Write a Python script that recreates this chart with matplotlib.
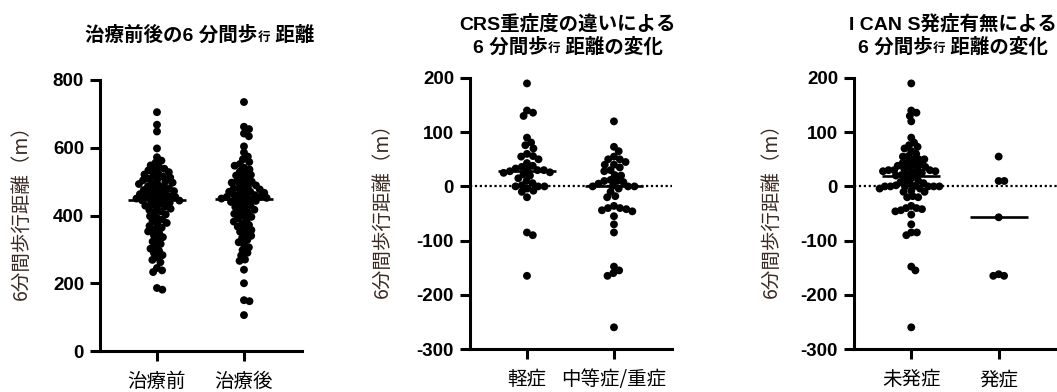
import numpy as np
import matplotlib
matplotlib.use("Agg")
from matplotlib import pyplot as plt
from matplotlib.offsetbox import TextArea, HPacker, VPacker, AnnotationBbox

plt.rcParams['axes.unicode_minus'] = False
LATIN = ['Liberation Sans', 'Noto Sans CJK JP']
CJK = ['Noto Sans CJK JP', 'DejaVu Sans']

# ---- data ----
cats1 = ['治療前', '治療後']
pre = [705, 668, 648, 598, 572, 562, 556, 548, 543, 538, 535, 533, 528, 524, 521,
       517, 515, 512, 508, 505, 504, 500, 497, 495, 493, 489, 486, 482, 480, 478,
       475, 472, 470, 469, 466, 463, 460, 458, 457, 455, 452, 450, 449, 447, 445,
       444, 441, 438, 435, 432, 429, 426, 423, 420, 416, 412, 408, 403, 398, 393,
       388, 383, 378, 374, 369, 364, 359, 353, 348, 342, 336, 330, 323, 316, 309,
       302, 296, 289, 283, 276, 269, 262, 245, 238, 233, 186, 181]
post = [735, 662, 655, 642, 634, 604, 586, 574, 566, 558, 552, 547, 541, 536, 530,
        524, 520, 518, 512, 506, 501, 500, 497, 493, 489, 485, 481, 480, 477, 473,
        470, 470, 467, 464, 461, 460, 458, 455, 455, 452, 450, 449, 446, 445, 443,
        440, 437, 433, 429, 425, 421, 417, 413, 409, 405, 400, 396, 392, 387, 382,
        377, 372, 367, 362, 357, 352, 346, 340, 334, 328, 321, 314, 306, 298, 290,
        282, 270, 266, 240, 200, 150, 147, 106]

cats2 = ['軽症', '中等症/重症']
mild = [190, 140, 136, 130, 90, 81, 76, 70, 60, 56, 55, 50, 43, 38, 36, 33, 31, 30,
        30, 28, 26, 25, 22, 20, 15, 10, 6, 2, 0, 0, 0, -4, -8, -10, -20, -85, -90, -165]
moderate = [120, 73, 65, 55, 50, 50, 45, 40, 40, 35, 30, 28, 21, 20, 12, 10, 10, 8, 5,
            1, 0, 0, 0, -4, -10, -18, -20, -36, -40, -40, -42, -44, -46, -55, -70, -85,
            -148, -155, -160, -165, -260]

cats3 = ['未発症', '発症']
no_icans = [190, 140, 136, 130, 120, 90, 81, 76, 73, 70, 65, 60, 56, 55, 50, 50, 50,
            45, 43, 40, 40, 38, 36, 35, 33, 31, 30, 30, 30, 28, 28, 26, 25, 22, 21, 20,
            20, 15, 12, 10, 8, 6, 5, 2, 1, 0, 0, 0, 0, 0, 0, -4, -4, -8, -10, -10, -18,
            -20, -20, -36, -40, -40, -42, -44, -46, -52, -70, -85, -85, -90, -148, -155,
            -260]
icans = [55, 10, 10, -57, -162, -165, -165]

ylabel = '6分間歩行距離（m）'
title1 = [[('治療前後の6 分間歩', 14), ('行', 9), (' 距離', 14)]]
title2 = [[('CRS重症度の違いによる', 14)],
          [('6 分間歩', 14), ('行', 9), (' 距離の変化', 14)]]
title3 = [[('I CAN S発症有無による', 14)],
          [('6 分間歩', 14), ('行', 9), (' 距離の変化', 14)]]

W, H = 1057, 392
fig = plt.figure(figsize=(W / 100, H / 100), dpi=100)


def swarm(values, px_per_unit, d, cat_px=87.0):
    """simple beeswarm: returns x offsets in category units"""
    ys = np.asarray(values, float) * px_per_unit
    order = np.argsort(-ys)
    placed = []
    xs = np.zeros(len(ys))
    for i in order:
        y = ys[i]
        near = [(px, py) for px, py in placed if abs(py - y) < d]
        cands = [0.0]
        for px, py in near:
            dx = np.sqrt(d * d - (py - y) ** 2)
            cands += [px + dx, px - dx]
        cands.sort(key=abs)
        for c in cands:
            if all((c - px) ** 2 + (y - py) ** 2 >= d * d - 1e-6 for px, py in near):
                xs[i] = c
                break
        placed.append((xs[i], y))
    return xs / cat_px


def panel(rect, groups, cats, ylim, yticks, zero_line, label_x, d):
    ax = fig.add_axes(rect)
    hpx = rect[3] * H
    ppu = hpx / (ylim[1] - ylim[0])
    for k, vals in enumerate(groups):
        off = swarm(vals, ppu, d)
        ax.scatter(k + off, vals, s=32, color='black', edgecolors='none', zorder=3)
        med = np.median(vals)
        ax.plot([k - 0.33, k + 0.33], [med, med], color='black', lw=1.9, zorder=4,
                solid_capstyle='butt')
    if zero_line:
        ax.axhline(0, color='black', lw=1.6, ls=(0, (1, 1.2)), zorder=1)
    ax.set_xlim(-0.655, 1.667)
    ax.set_ylim(*ylim)
    ax.set_yticks(yticks)
    ax.set_xticks(range(len(cats)))
    ax.set_xticklabels(cats, family=CJK, fontsize=14)
    for t in ax.get_yticklabels():
        t.set_family(LATIN)
        t.set_fontweight('bold')
        t.set_fontsize(13.5)
    for s in ['top', 'right']:
        ax.spines[s].set_visible(False)
    for s in ['left', 'bottom']:
        ax.spines[s].set_linewidth(2.2)
    ax.tick_params(axis='both', length=7.5, width=2.2, direction='out')
    ax.tick_params(axis='y', pad=4)
    ax.tick_params(axis='x', pad=7)
    ax.set_ylabel(ylabel, family=CJK, fontsize=14, color='#3b2a22')
    ax.yaxis.set_label_coords(label_x, 0.53)
    return ax


def add_title(lines, x, y):
    rows = []
    for parts in lines:
        kids = [TextArea(t, textprops=dict(fontsize=s, fontweight='bold', family=LATIN))
                for t, s in parts]
        rows.append(HPacker(children=kids, align='baseline', pad=0, sep=0))
    box = VPacker(children=rows, align='center', pad=0, sep=3)
    ab = AnnotationBbox(box, (x / W, 1 - y / H), xycoords='figure fraction',
                        frameon=False, box_alignment=(0.5, 0.5), pad=0)
    fig.add_artist(ab)


panel([100 / W, 1 - 351 / H, 202 / W, 271 / H], [pre, post], cats1,
      (0, 800), [0, 200, 400, 600, 800], False, -0.337, 5.6)
panel([470 / W, 1 - 349 / H, 202 / W, 271 / H], [mild, moderate], cats2,
      (-300, 200), [-300, -200, -100, 0, 100, 200], True, -0.381, 6.4)
panel([854 / W, 1 - 349 / H, 203 / W, 271 / H], [no_icans, icans], cats3,
      (-300, 200), [-300, -200, -100, 0, 100, 200], True, -0.355, 5.6)

add_title(title1, 200, 35)
add_title(title2, 568, 35)
add_title(title3, 953, 35)

fig.savefig('out.png', dpi=100)
